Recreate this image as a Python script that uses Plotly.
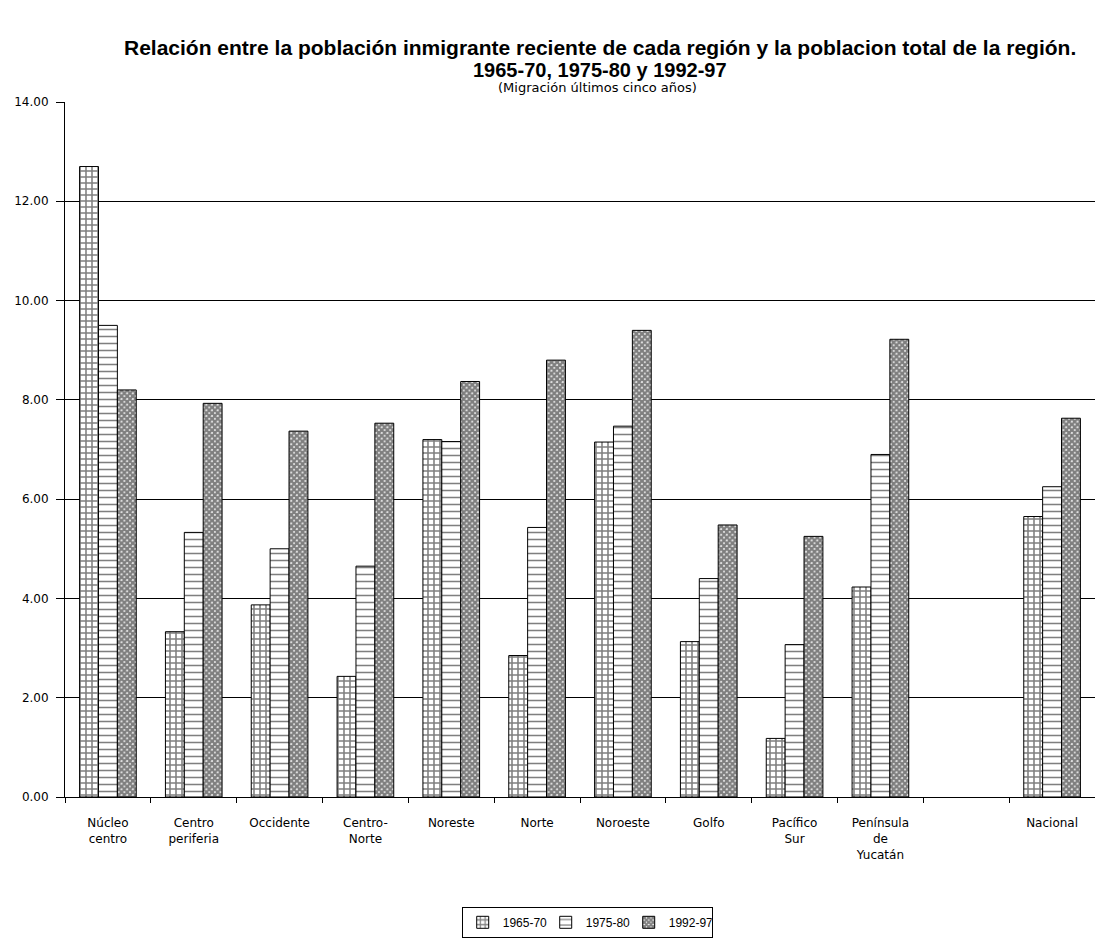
import plotly.graph_objects as go

# Regions (the blank slot separates the regions from the national total)
regiones = [
    "Núcleo<br>centro", "Centro<br>periferia", "Occidente", "Centro-<br>Norte",
    "Noreste", "Norte", "Noroeste", "Golfo", "Pacífico<br>Sur",
    "Península<br>de<br>Yucatán", " ", "Nacional",
]

# Recent immigrants as a percentage of each region's total population
p_1965_70 = [12.70, 3.33, 3.87, 2.43, 7.20, 2.85, 7.15, 3.13, 1.18, 4.23, None, 5.65]
p_1975_80 = [9.50, 5.33, 5.00, 4.65, 7.16, 5.43, 7.47, 4.40, 3.07, 6.90, None, 6.25]
p_1992_97 = [8.20, 7.93, 7.37, 7.53, 8.37, 8.80, 9.40, 5.48, 5.25, 9.22, None, 7.63]

y_ticks = [0, 2, 4, 6, 8, 10, 12, 14]
y_labels = [f"{v:.2f}" for v in y_ticks]

TITLE_FONT = "Liberation Sans, Arial, sans-serif"
TEXT_FONT = "DejaVu Sans, Verdana, sans-serif"

series = [
    ("1965-70", p_1965_70, dict(shape="+", size=6, solidity=0.45)),
    ("1975-80", p_1975_80, dict(shape="-", size=7, solidity=0.22)),
    ("1992-97", p_1992_97, dict(shape="x", size=4, solidity=0.85)),
]

fig = go.Figure()
for name, vals, pat in series:
    fig.add_trace(go.Bar(
        name=name,
        x=regiones,
        y=vals,
        marker=dict(
            color="white",
            line=dict(color="black", width=1),
            pattern=dict(fgcolor="black", bgcolor="white", fillmode="overlay", **pat),
        ),
    ))

fig.update_layout(
    width=1095,
    height=948,
    paper_bgcolor="white",
    plot_bgcolor="white",
    barmode="group",
    bargap=0.34,
    bargroupgap=0,
    margin=dict(l=65, r=0, t=102, b=151),
    font=dict(family=TEXT_FONT, size=12, color="black"),
    showlegend=True,
    legend=dict(
        orientation="h",
        x=0.507, xanchor="center",
        y=-0.158, yanchor="top",
        bordercolor="black", borderwidth=1,
        font=dict(size=12, family=TITLE_FONT),
        itemwidth=30,
        entrywidth=38, entrywidthmode="pixels",
        tracegroupgap=0,
    ),
    annotations=[
        dict(text="<b>Relación entre la población inmigrante reciente de cada región y la poblacion total de la región.</b>",
             xref="paper", yref="paper", x=0.519, y=1.0, yshift=55,
             showarrow=False, font=dict(size=21, family=TITLE_FONT), xanchor="center", yanchor="middle"),
        dict(text="<b>1965-70, 1975-80 y 1992-97</b>",
             xref="paper", yref="paper", x=0.519, y=1.0, yshift=32,
             showarrow=False, font=dict(size=20, family=TITLE_FONT), xanchor="center", yanchor="middle"),
        dict(text="(Migración últimos cinco años)",
             xref="paper", yref="paper", x=0.517, y=1.0, yshift=15,
             showarrow=False, font=dict(size=13, family=TEXT_FONT), xanchor="center", yanchor="middle"),
    ],
)

fig.update_xaxes(
    type="category",
    categoryorder="array",
    categoryarray=regiones,
    showline=True, linecolor="black", linewidth=1,
    ticks="outside", tickson="boundaries", ticklen=5, tickcolor="black",
    showgrid=False,
    tickfont=dict(size=12, family=TEXT_FONT),
    tickangle=0,
    ticklabelstandoff=15,
)
fig.update_yaxes(
    range=[0, 14],
    tickvals=y_ticks,
    ticktext=y_labels,
    showline=True, linecolor="black", linewidth=1,
    ticks="outside", ticklen=8, tickcolor="black",
    showgrid=True, gridcolor="black", gridwidth=1,
    zeroline=False,
    tickfont=dict(size=12, family=TEXT_FONT),
    ticklabelstandoff=5,
)

fig.write_html("out.html")
